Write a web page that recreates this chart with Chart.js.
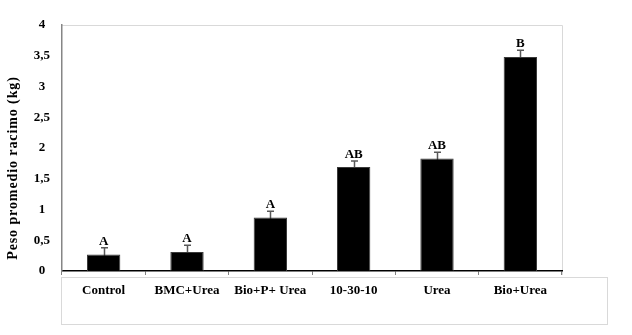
<!DOCTYPE html>
<html>
<head>
<meta charset="utf-8">
<script src="https://cdn.jsdelivr.net/npm/chart.js@4"></script>
<style>
  html, body { margin: 0; padding: 0; background: #fff; }
  #wrap { width: 632px; height: 335px; }
</style>
</head>
<body>
<div id="wrap"><canvas id="c" width="632" height="335"></canvas></div>
<script>
const categories = ['Control', 'BMC+Urea', 'Bio+P+ Urea', '10-30-10', 'Urea', 'Bio+Urea'];
const means = [0.27, 0.31, 0.87, 1.69, 1.83, 3.48];
const errors = [0.11, 0.11, 0.10, 0.10, 0.10, 0.11];
const letters = ['A', 'A', 'A', 'AB', 'AB', 'B'];
const yTicks = [0, 0.5, 1, 1.5, 2, 2.5, 3, 3.5, 4];
const yTitle = 'Peso promedio racimo (kg)';

const SERIF = '"Liberation Serif", "Times New Roman", serif';

const decorPlugin = {
  id: 'decor',
  beforeDraw(chart) {
    const ctx = chart.ctx;
    const a = chart.chartArea;
    ctx.save();
    ctx.strokeStyle = '#d9d9d9';
    ctx.lineWidth = 1;
    ctx.beginPath();
    ctx.moveTo(a.left, a.top + 0.5);
    ctx.lineTo(a.right + 0.5, a.top + 0.5);
    ctx.lineTo(a.right + 0.5, a.bottom + 4);
    ctx.stroke();
    ctx.strokeRect(61.5, 277.5, 546, 47);
    ctx.restore();
  },
  beforeDatasetsDraw(chart) {
    const ctx = chart.ctx;
    const meta = chart.getDatasetMeta(0);
    const y = chart.scales.y;
    ctx.save();
    ctx.strokeStyle = '#595959';
    ctx.lineWidth = 1.5;
    meta.data.forEach((bar, i) => {
      const x = Math.round(bar.x) + 0.5;
      const top = y.getPixelForValue(means[i] + errors[i]);
      const bot = y.getPixelForValue(Math.max(0, means[i] - errors[i]));
      ctx.beginPath();
      ctx.moveTo(x, bot);
      ctx.lineTo(x, top);
      ctx.moveTo(x - 3.5, top);
      ctx.lineTo(x + 3.5, top);
      ctx.stroke();
    });
    ctx.restore();
  },
  afterDatasetsDraw(chart) {
    const ctx = chart.ctx;
    const meta = chart.getDatasetMeta(0);
    const y = chart.scales.y;
    ctx.save();
    ctx.fillStyle = '#000';
    ctx.font = 'bold 13px ' + SERIF;
    ctx.textAlign = 'center';
    ctx.textBaseline = 'alphabetic';
    meta.data.forEach((bar, i) => {
      const top = y.getPixelForValue(means[i] + errors[i]);
      ctx.fillText(letters[i], bar.x, top - 3);
    });
    ctx.translate(13, 168);
    ctx.rotate(-Math.PI / 2);
    ctx.font = 'bold 14px ' + SERIF;
    ctx.textBaseline = 'middle';
    if ('letterSpacing' in ctx) ctx.letterSpacing = '0.9px';
    ctx.fillText(yTitle, 0, 0);
    ctx.restore();
  }
};

new Chart(document.getElementById('c'), {
  type: 'bar',
  data: {
    labels: categories,
    datasets: [{
      data: means,
      backgroundColor: '#000000',
      borderColor: '#3a3a3a',
      borderWidth: 1,
      barPercentage: 0.4,
      categoryPercentage: 1.0
    }]
  },
  options: {
    responsive: false,
    animation: false,
    devicePixelRatio: 1,
    layout: { padding: { top: 25, right: 70, left: 0, bottom: 0 } },
    plugins: {
      legend: { display: false },
      tooltip: { enabled: false }
    },
    scales: {
      x: {
        offset: true,
        grid: {
          offset: true,
          drawOnChartArea: false,
          drawTicks: true,
          tickLength: 4,
          color: '#808080'
        },
        border: { display: true, color: '#000000', width: 1.5 },
        ticks: {
          color: '#000',
          font: { family: SERIF, size: 13, weight: 'bold' },
          padding: 8,
          maxRotation: 0,
          autoSkip: false
        },
        afterFit(scale) { scale.height = 64; }
      },
      y: {
        min: 0,
        max: 4,
        afterBuildTicks(scale) { scale.ticks = yTicks.map(v => ({ value: v })); },
        grid: { display: false, drawTicks: false },
        border: { display: true, color: '#868686', width: 1.5 },
        ticks: {
          color: '#000',
          font: { family: SERIF, size: 13, weight: 'bold' },
          crossAlign: 'center',
          padding: 12,
          callback: (v) => String(v).replace('.', ',')
        },
        afterFit(scale) { scale.width = 62; }
      }
    }
  },
  plugins: [decorPlugin]
});
</script>
</body>
</html>
